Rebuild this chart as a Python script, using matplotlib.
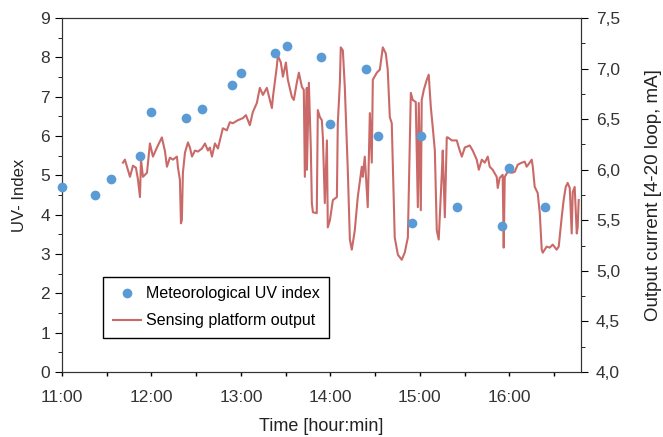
import matplotlib.pyplot as plt
from matplotlib.ticker import MultipleLocator, FuncFormatter

plt.rcParams['font.family'] = ['Liberation Sans', 'DejaVu Sans']

# Meteorological UV index (minutes after 11:00, UV index)
uv_minutes = [0, 22, 33, 52, 60, 83, 94, 114, 120, 143, 151, 174, 180,
              204, 212, 235, 241, 265, 295, 300, 324]
uv_index = [4.7, 4.5, 4.9, 5.5, 6.6, 6.45, 6.7, 7.3, 7.6, 8.1, 8.3, 8.0, 6.3,
            7.7, 6.0, 3.8, 6.0, 4.2, 3.7, 5.2, 4.2]

# Sensing platform output (minutes after 11:00, mA)
out_minutes = [
    40.9, 42.2, 44.2, 45.6, 47.6, 49.6, 51.0, 52.3, 53.0, 54.3, 57.0, 59.0,
    61.0, 63.7, 67.0, 69.1, 70.4, 72.4, 74.4, 77.1, 77.8, 79.1, 79.8, 80.4,
    81.1, 82.5, 84.5, 85.8, 87.2, 89.2, 91.2, 93.9, 95.9, 97.9, 99.2, 100.6,
    102.6, 104.6, 107.9, 110.6, 112.6, 114.6, 118.0, 121.3, 123.4, 126.0,
    128.0, 130.7, 132.7, 134.8, 137.4, 139.4, 140.8, 141.5, 144.1, 144.8,
    146.8, 148.2, 150.2, 151.5, 154.2, 155.5, 157.5, 158.9, 160.9, 162.2,
    162.9, 164.2, 164.3, 165.6, 166.9, 167.6, 168.3, 170.9, 171.6, 173.0,
    174.3, 175.0, 176.3, 177.7, 178.3, 179.7, 181.7, 184.4, 185.0, 186.4,
    187.0, 188.4, 189.7, 191.7, 193.1, 194.4, 196.4, 198.4, 201.1, 201.8,
    203.1, 204.5, 205.1, 206.5, 207.8, 208.5, 211.2, 213.2, 215.2, 217.2,
    218.5, 219.9, 221.2, 223.2, 225.3, 227.9, 229.9, 232.0, 233.3, 234.0,
    235.3, 237.3, 238.7, 239.3, 240.7, 241.3, 242.7, 244.7, 246.0, 247.4,
    248.7, 250.1, 251.4, 252.7, 254.8, 255.4, 256.8, 258.1, 258.8, 261.5,
    264.8, 266.8, 268.2, 270.2, 273.5, 275.5, 278.2, 279.6, 281.6, 283.6,
    285.6, 286.9, 288.9, 291.6, 292.3, 293.6, 295.6, 296.3, 297.0, 299.0,
    301.7, 303.7, 305.7, 308.4, 310.4, 311.7, 313.7, 315.1, 315.8, 317.1,
    319.1, 320.5, 321.8, 322.5, 325.1, 327.2, 329.2, 331.8, 333.2, 335.2,
    336.5, 337.9, 339.2, 340.6, 341.9, 342.6, 343.9, 345.3, 345.9, 346.6]
out_current = [
    6.07, 6.10, 6.00, 5.93, 6.04, 6.02, 5.90, 5.73, 6.10, 5.93, 5.97, 6.26,
    6.13, 6.22, 6.32, 6.18, 6.03, 6.12, 6.10, 6.13, 6.02, 5.90, 5.47, 5.50,
    5.97, 6.17, 6.27, 6.22, 6.13, 6.19, 6.18, 6.21, 6.26, 6.19, 6.22, 6.13,
    6.26, 6.21, 6.41, 6.39, 6.47, 6.46, 6.49, 6.51, 6.54, 6.44,
    6.57, 6.66, 6.81, 6.74, 6.81, 6.69, 6.61, 6.72, 7.02, 7.13,
    7.06, 6.92, 7.06, 6.89, 6.72, 6.69, 6.86, 6.96, 6.82, 6.79,
    5.93, 6.81, 6.00, 6.86, 6.22, 5.67, 5.58, 5.57, 6.59, 6.52,
    6.49, 6.32, 5.67, 6.29, 5.43, 5.50, 5.70, 5.73, 6.46, 6.86,
    7.21, 7.18, 6.82, 6.00, 5.31, 5.21, 5.40, 5.73, 6.03, 5.93,
    6.13, 5.77, 5.63, 6.56, 6.07, 6.89, 6.96, 6.99, 7.21, 7.15,
    6.99, 6.52, 6.46, 5.33, 5.16, 5.11, 5.18, 5.33, 6.29, 6.76,
    6.69, 6.67, 5.63, 6.66, 5.60, 6.69, 6.79, 6.89, 6.94, 6.62,
    6.42, 6.19, 5.40, 5.31, 5.97, 6.19, 5.53, 6.32, 6.32, 6.29,
    6.29, 6.19, 6.13, 6.22, 6.24, 6.19, 6.10, 6.00, 6.10, 6.07,
    6.13, 6.03, 6.00, 5.93, 5.82, 5.92, 5.95, 5.23, 5.93, 5.98,
    5.97, 5.98, 6.05, 6.07, 6.08, 6.03, 6.07, 6.10, 6.03, 5.83,
    5.77, 5.57, 5.21, 5.18, 5.24, 5.23, 5.26, 5.21, 5.24, 5.53,
    5.70, 5.83, 5.87, 5.82, 5.37, 5.78, 5.83, 5.37, 5.43, 5.70]

time_ticks = [0, 60, 120, 180, 240, 300]
time_labels = ['11:00', '12:00', '13:00', '14:00', '15:00', '16:00']

fig = plt.figure(figsize=(6.63, 4.37), dpi=100)
ax = fig.add_axes([0.0935, 0.1487, 0.7825, 0.81])
ax2 = ax.twinx()

dots, = ax.plot(uv_minutes, uv_index, 'o', color='#5B9BD5', markersize=7,
                markeredgewidth=0, label='Meteorological UV index', zorder=3,
                clip_on=False)
line, = ax2.plot(out_minutes, out_current, color='#C0504D', lw=1.5, alpha=0.85,
                 label='Sensing platform output')
ax.set_zorder(ax2.get_zorder() + 1)
ax.patch.set_visible(False)

ax.set_xlim(0, 348)
ax.set_ylim(0, 9)
ax2.set_ylim(4.0, 7.5)

ax.set_xticks(time_ticks)
ax.set_xticklabels(time_labels)
ax.xaxis.set_minor_locator(MultipleLocator(30))
ax.yaxis.set_major_locator(MultipleLocator(1))
ax.yaxis.set_minor_locator(MultipleLocator(0.5))
ax2.yaxis.set_major_locator(MultipleLocator(0.5))
ax2.yaxis.set_minor_locator(MultipleLocator(0.25))
ax2.yaxis.set_major_formatter(FuncFormatter(lambda v, p: f'{v:.1f}'.replace('.', ',')))

tick_col = '#333333'
ax.tick_params(axis='x', which='both', direction='out', length=3, width=1,
               labelsize=12.5, pad=10, labelcolor=tick_col)
ax.tick_params(axis='y', which='major', direction='out', length=5,
               labelsize=12.5, labelcolor=tick_col)
ax.tick_params(axis='y', which='minor', direction='out', length=3)
ax2.tick_params(axis='y', which='major', direction='out', length=5,
                labelsize=12.5, labelcolor=tick_col, pad=6)
ax2.tick_params(axis='y', which='minor', direction='out', length=3)

for a in (ax, ax2):
    for s in a.spines.values():
        s.set_color('#333333')

ax.set_xlabel('Time [hour:min]', fontsize=13, color='#222222', labelpad=9)
ax.set_ylabel('UV- Index', fontsize=12, color='#222222', labelpad=10)
ax2.set_ylabel('Output current [4-20 loop, mA]', fontsize=13.5,
               color='#222222', labelpad=18)

leg = ax.legend([dots, line], ['Meteorological UV index', 'Sensing platform output'],
                loc='lower left', bbox_to_anchor=(0.079, 0.096), fontsize=11.5,
                fancybox=False, framealpha=1, edgecolor='black', borderpad=0.6,
                labelspacing=0.75, handlelength=1.8, handletextpad=0.3,
                borderaxespad=0)
leg.get_frame().set_linewidth(1)

fig.savefig('out.png', dpi=100)
